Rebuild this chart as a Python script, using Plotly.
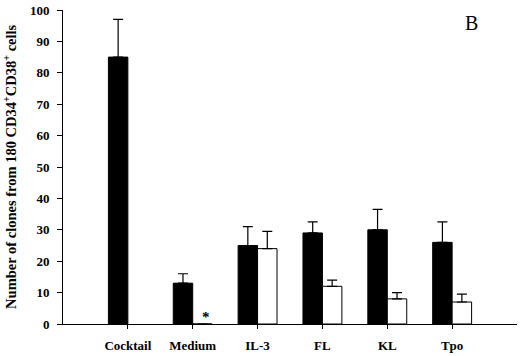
import plotly.graph_objects as go

categories = ["Cocktail", "Medium", "IL-3", "FL", "KL", "Tpo"]
black_values = [85, 13, 25, 29, 30, 26]
black_errors = [12, 3, 6, 3.5, 6.5, 6.5]
white_values = [None, 0, 24, 12, 8, 7]
white_errors = [0, 0, 5.5, 2, 2, 2.5]
y_ticks = [0, 10, 20, 30, 40, 50, 60, 70, 80, 90, 100]

FONT = "Liberation Serif, Times New Roman, serif"
xpos = list(range(len(categories)))
BAR_W = 0.3  # width of one bar in category units

fig = go.Figure()
fig.add_trace(go.Bar(
    x=xpos, y=black_values,
    marker=dict(color="black", line=dict(color="black", width=1)),
    error_y=dict(type="data", symmetric=False, array=black_errors,
                 arrayminus=[0] * len(black_errors),
                 color="black", thickness=1.2, width=5),
    showlegend=False,
))
fig.add_trace(go.Bar(
    x=xpos, y=white_values,
    marker=dict(color="white", line=dict(color="black", width=1)),
    error_y=dict(type="data", symmetric=False, array=white_errors,
                 arrayminus=[0] * len(white_errors),
                 color="black", thickness=1.2, width=5),
    showlegend=False,
))

annotations = [
    dict(text="B", xref="paper", yref="paper", x=0.90, y=0.959,
         xanchor="center", yanchor="middle", showarrow=False,
         font=dict(family=FONT, size=20, color="black")),
    dict(text="Number of clones from 180 CD34<sup>+</sup>CD38<sup>+</sup> cells",
         xref="paper", yref="paper", x=-0.117, y=0.5, textangle=-90,
         xanchor="center", yanchor="middle", showarrow=False,
         font=dict(family=FONT, size=14.5, color="black", weight="bold")),
]
for i, v in enumerate(white_values):
    if v == 0:
        annotations.append(dict(text="*", x=i + BAR_W * 0.7, y=0, xref="x", yref="y",
                                yshift=7, showarrow=False,
                                font=dict(family=FONT, size=15, color="black", weight="bold")))

fig.update_layout(
    width=520, height=356,
    margin=dict(l=63, r=3, t=7, b=31),
    paper_bgcolor="white", plot_bgcolor="white",
    barmode="group", bargap=1 - 2 * BAR_W, bargroupgap=0,
    font=dict(family=FONT, color="black"),
    xaxis=dict(
        range=[-1, 6], tickvals=xpos, ticktext=categories,
        showline=True, linecolor="black", linewidth=1,
        ticks="outside", ticklen=4, tickcolor="black",
        showgrid=False, zeroline=False,
        tickfont=dict(family=FONT, size=13, color="black", weight="bold"),
        ticklabelstandoff=5,
    ),
    yaxis=dict(
        range=[0, 100], tickvals=y_ticks,
        showline=True, linecolor="black", linewidth=1,
        ticks="outside", ticklen=5, tickcolor="black",
        showgrid=False, zeroline=False, ticklabeloverflow="allow",
        tickfont=dict(family=FONT, size=13, color="black", weight="bold"),
        ticklabelstandoff=5,
    ),
    annotations=annotations,
)

fig.write_html("out.html", config={"displayModeBar": False},
               post_script="document.body.style.margin='0';document.body.style.padding='0';")
